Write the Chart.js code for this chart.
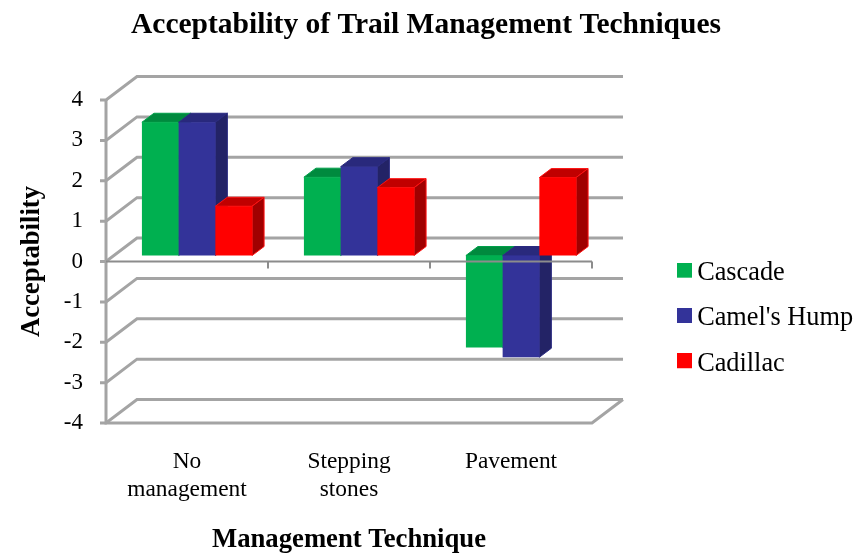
<!DOCTYPE html>
<html><head><meta charset="utf-8">
<style>html,body{margin:0;padding:0;background:#fff}canvas{display:block}</style>
<script src="https://cdn.jsdelivr.net/npm/chart.js@4"></script>
</head><body>
<div style="width:859px;height:553px"><canvas id="c"></canvas></div>
<script>
const categories = [["No","management"],["Stepping","stones"],"Pavement"];
const cascade = [3.3, 1.94, -2.28];
const camelsHump = [3.3, 2.2, -2.52];
const cadillac = [1.22, 1.68, 1.93];
const seriesNames = ["Cascade","Camel's Hump","Cadillac"];
const frontColors = ["#00B050","#333399","#FF0000"];
const capColors = ["#008A3E","#29297C","#C00000"];
const sideColors = ["#007A37","#232366","#A00000"];
const edgeColors = ["#00A04A","#2A2A80","#FF1010"];
const FONT = "'Liberation Serif'";
const wall = {dx:31, dy:-23.5}, barDepth = {dx:12, dy:-9}, barShift = {x:10, y:-6};

function swatch(color){
  const s = document.createElement('canvas'); s.width = 17; s.height = 21;
  const g = s.getContext('2d'); g.fillStyle = color; g.fillRect(2,0,15,15);
  return s;
}
function poly(ctx, pts, fill, stroke){
  ctx.beginPath(); pts.forEach((p,i)=> i?ctx.lineTo(p[0],p[1]):ctx.moveTo(p[0],p[1])); ctx.closePath();
  ctx.fillStyle = fill; ctx.fill();
  ctx.strokeStyle = stroke; ctx.lineWidth = 1; ctx.stroke();
}
function line(ctx, pts, color, w){
  ctx.beginPath(); pts.forEach((p,i)=> i?ctx.lineTo(p[0],p[1]):ctx.moveTo(p[0],p[1]));
  ctx.strokeStyle = color; ctx.lineWidth = w; ctx.lineJoin='miter'; ctx.stroke();
}
const threeD = {
  id:'threeD',
  beforeLayout(chart){
    const lg = chart.legend;
    if(!lg._wrapped){ const f = lg.fit; lg.fit = function(){ f.call(this); this.width = 267; }; lg._wrapped = true; }
  },
  afterLayout(chart){
    chart.titleBlock.right = 852;
    const lg = chart.legend;
    lg.left = 664; lg.right = 859; lg.top = 241; lg.bottom = 400;
  },
  beforeDatasetsDraw(chart){
    const {ctx, chartArea:a, scales:{y}} = chart, gray = '#A4A4A4';
    ctx.save();
    y.ticks.forEach(t=>{
      const p = y.getPixelForValue(t.value);
      line(ctx, [[a.left-6,p],[a.left,p],[a.left+wall.dx,p+wall.dy],[a.right+wall.dx,p+wall.dy]], gray, 3);
    });
    line(ctx, [[a.left,a.top],[a.left,a.bottom],[a.right,a.bottom],[a.right+wall.dx,a.bottom+wall.dy]], gray, 3);
    ctx.restore();
  },
  // Native pass would paint the first series last; paint left to right instead.
  beforeDatasetDraw(){ return false; },
  afterDatasetsDraw(chart){
    const {ctx, chartArea:a, scales:{y}} = chart, d = barDepth;
    values.forEach((_,i)=>{
      const meta = chart.getDatasetMeta(i);
      ctx.save(); ctx.translate(barShift.x, barShift.y);
      meta.data.forEach(b=>{
        const {x,y:vy,base,width} = b.getProps(['x','y','base','width'], true);
        const l = x-width/2, r = x+width/2, t = Math.min(vy,base), o = Math.max(vy,base);
        poly(ctx, [[l,t],[r,t],[r+d.dx,t+d.dy],[l+d.dx,t+d.dy]], capColors[i], edgeColors[i]);
        poly(ctx, [[r,t],[r+d.dx,t+d.dy],[r+d.dx,o+d.dy],[r,o]], sideColors[i], edgeColors[i]);
      });
      meta.controller.draw();
      ctx.restore();
    });
    const p = y.getPixelForValue(0), c = '#8C8C8C';
    line(ctx, [[a.left,p],[a.right,p]], c, 2);
    categories.forEach((_,i)=>{
      const e = a.left + (a.right-a.left)*(i+1)/categories.length;
      line(ctx, [[e,p],[e,p+7]], c, 2);
    });
  }
};
const values = [cascade, camelsHump, cadillac];
new Chart(document.getElementById('c'), {
  type:'bar',
  data:{labels:categories, datasets:values.map((v,i)=>({
    label:seriesNames[i], data:v, backgroundColor:frontColors[i], clip:false,
    categoryPercentage:0.68, barPercentage:1, borderWidth:0
  }))},
  plugins:[threeD],
  options:{
    responsive:true, maintainAspectRatio:false, animation:false,
    layout:{padding:0},
    plugins:{
      tooltip:{enabled:false},
      title:{display:true, text:'Acceptability of Trail Management Techniques', color:'#000',
        font:{family:FONT,size:29.5,weight:'bold'}, padding:{top:8,bottom:56.6}},
      legend:{position:'right', align:'start',
        labels:{font:{family:FONT,size:26.3}, color:'#000', usePointStyle:true, pointStyleWidth:1, padding:19,
          generateLabels(chart){
            return Chart.defaults.plugins.legend.labels.generateLabels(chart).map((it,i)=>{
              it.pointStyle = swatch(frontColors[i]); it.lineWidth = 0; return it; });
          }}}
    },
    scales:{
      x:{grid:{display:false,drawTicks:false}, border:{display:false},
        afterFit(s){ s.height = 130; },
        ticks:{color:'#000', font:{family:FONT,size:23.4}, padding:25, maxRotation:0, autoSkip:false},
        title:{display:true, text:'Management Technique', color:'#000',
          font:{family:FONT,size:26.7,weight:'bold',lineHeight:1}, padding:{top:1,bottom:0}}},
      y:{min:-4,max:4, grid:{display:false,drawTicks:false}, border:{display:false},
        afterFit(s){ s.width = 106; },
        ticks:{stepSize:1, color:'#000', font:{family:FONT,size:23}, padding:23},
        title:{display:true, text:'Acceptability', color:'#000',
          font:{family:FONT,size:26.7,weight:'bold'}, padding:{top:16,bottom:0}}}
    }
  }
});
</script>
</body></html>
